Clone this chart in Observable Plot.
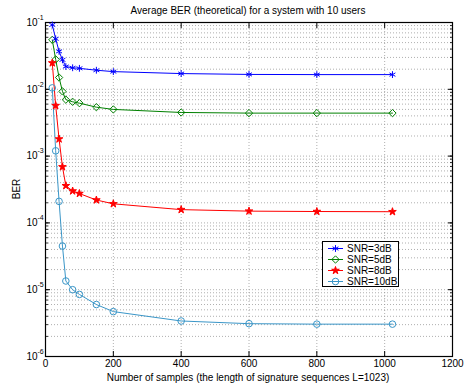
<!DOCTYPE html>
<html>
<head>
<meta charset="utf-8">
<script src="https://cdn.jsdelivr.net/npm/d3@7"></script>
<script src="https://cdn.jsdelivr.net/npm/@observablehq/plot@0.6"></script>
<style>
  html, body { margin: 0; padding: 0; background: #fff; }
  #wrap { position: relative; width: 464px; height: 386px; font-family: "Liberation Sans", Arial, sans-serif; }
  #legend { position: absolute; left: 322px; top: 241px; width: 75px; height: 44px; border: 1px solid #000; background: #fff; font-size: 10px; }
  #legend .row { position: absolute; left: 0; height: 11px; display: flex; align-items: center; }
  #legend svg { display: block; }
</style>
</head>
<body>
<div id="wrap"></div>
<script>
const title = "Average BER (theoretical) for a system with 10 users";
const xLabel = "Number of samples (the length of signature sequences L=1023)";
const yLabel = "BER";
const samples = [20, 30, 40, 50, 60, 80, 100, 150, 200, 400, 600, 800, 1023];
const ber3  = [0.092, 0.057, 0.037, 0.0276, 0.0219, 0.021, 0.0206, 0.0193, 0.0184, 0.0172, 0.0167, 0.0166, 0.0166];
const ber5  = [0.055, 0.028, 0.015, 0.0093, 0.0070, 0.0065, 0.0062, 0.0054, 0.0050, 0.0045, 0.0044, 0.0044, 0.0044];
const ber8  = [0.0248, 0.0057, 0.0018, 0.00069, 0.00036, 0.00030, 0.000275, 0.00022, 0.000193, 0.000158, 0.00015, 0.000148, 0.000147];
const ber10 = [0.0105, 0.0012, 0.00021, 4.5e-5, 1.35e-5, 1.0e-5, 8.5e-6, 6.0e-6, 4.7e-6, 3.4e-6, 3.1e-6, 3.05e-6, 3.05e-6];
const seriesNames = ["SNR=3dB", "SNR=5dB", "SNR=8dB", "SNR=10dB"];
const seriesColors = ["#0000ff", "#008000", "#ff0000", "#3a96c8"];
const seriesSymbols = ["asterisk", "diamond2", "star", "circle"];
const seriesFilled = [false, false, true, false];
const seriesSizes = [3.2, 3.3, 2.4, 3.3];
const xTicks = [0, 200, 400, 600, 800, 1000, 1200];
const yDecades = [1e-6, 1e-5, 1e-4, 1e-3, 1e-2, 1e-1];
const yExponents = ["-6", "-5", "-4", "-3", "-2", "-1"];

const allSeries = [ber3, ber5, ber8, ber10];
const rows = [];
allSeries.forEach((vals, i) => vals.forEach((v, j) => rows.push({x: samples[j], y: v, s: seriesNames[i], i})));

const yMinor = d3.scaleLog().domain([1e-6, 1e-1]).ticks();
const decadeRows = yDecades.map((d, i) => ({y: d, e: yExponents[i]}));
const font = "Liberation Sans, Arial, sans-serif";
const grid = {stroke: "#9a9a9a", strokeDasharray: "1,2", strokeWidth: 0.8};
const noLabel = () => "";

const marks = [
  Plot.ruleY(yMinor, {y: d => d, ...grid}),
  Plot.ruleX(xTicks.slice(1, -1), {x: d => d, ...grid}),
  Plot.axisY(yMinor, {anchor: "left", tickSize: -3, tickFormat: noLabel, label: null, strokeWidth: 0.8}),
  Plot.axisY(yMinor, {anchor: "right", tickSize: -3, tickFormat: noLabel, label: null, strokeWidth: 0.8}),
  Plot.axisY(yDecades, {anchor: "left", tickSize: -5, tickFormat: noLabel, label: null}),
  Plot.axisY(yDecades, {anchor: "right", tickSize: -5, tickFormat: noLabel, label: null}),
  Plot.axisX(xTicks, {anchor: "bottom", tickSize: -5, tickFormat: noLabel, label: null}),
  Plot.axisX(xTicks, {anchor: "top", tickSize: -5, tickFormat: noLabel, label: null}),
  Plot.text(xTicks, {x: d => d, frameAnchor: "bottom", dy: 10, text: d => String(d), fontSize: 10, fill: "#000"}),
  Plot.text(decadeRows, {y: "y", frameAnchor: "left", dx: -8, textAnchor: "end", text: () => "10", fontSize: 10, fill: "#000"}),
  Plot.text(decadeRows, {y: "y", frameAnchor: "left", dx: -8, dy: -5, textAnchor: "start", text: "e", fontSize: 7, fill: "#000"}),
  Plot.frame({stroke: "#000", strokeWidth: 1.2}),
  Plot.line(rows, {x: "x", y: "y", stroke: "s", strokeWidth: 1}),
  Plot.dot(rows, {x: "x", y: "y", stroke: "s", symbol: "s", r: d => seriesSizes[d.i], strokeWidth: 1,
    fill: d => seriesFilled[d.i] ? seriesColors[d.i] : "none"})
];

const chart = Plot.plot({
  width: 464,
  height: 386,
  marginLeft: 45,
  marginRight: 12,
  marginTop: 22,
  marginBottom: 30,
  style: {fontFamily: font, fontSize: "10px", background: "#fff", overflow: "visible"},
  x: {domain: [0, 1200], axis: null},
  y: {type: "log", domain: [1e-6, 1e-1], axis: null},
  r: {type: "identity"},
  color: {domain: seriesNames, range: seriesColors},
  symbol: {domain: seriesNames, range: seriesSymbols},
  marks
});

const wrap = document.getElementById("wrap");
wrap.appendChild(chart);

const svg = d3.select(chart);
svg.append("text").attr("x", 248).attr("y", 14).attr("text-anchor", "middle")
  .attr("font-size", 10).attr("font-family", font).text(title);
svg.append("text").attr("x", 248).attr("y", 381).attr("text-anchor", "middle")
  .attr("font-size", 10).attr("font-family", font).text(xLabel);
svg.append("text").attr("transform", "translate(20,189) rotate(-90)").attr("text-anchor", "middle")
  .attr("font-size", 10).attr("font-family", font).text(yLabel);

// Legend
const legend = document.createElement("div");
legend.id = "legend";
wrap.appendChild(legend);
const symGen = {asterisk: d3.symbolAsterisk, diamond2: d3.symbolDiamond2, star: d3.symbolStar, circle: d3.symbolCircle};
seriesNames.forEach((name, i) => {
  const row = document.createElement("div");
  row.className = "row";
  row.style.top = (0.5 + i * 11) + "px";
  const s = d3.create("svg").attr("width", 24).attr("height", 11);
  s.append("line").attr("x1", 5).attr("x2", 20).attr("y1", 5.5).attr("y2", 5.5)
    .attr("stroke", seriesColors[i]).attr("stroke-width", 1);
  const r = seriesSizes[i];
  s.append("path").attr("transform", "translate(12.5,5.5)")
    .attr("d", d3.symbol(symGen[seriesSymbols[i]], Math.PI * r * r)())
    .attr("stroke", seriesColors[i]).attr("stroke-width", 1)
    .attr("fill", seriesFilled[i] ? seriesColors[i] : "none");
  row.appendChild(s.node());
  const t = document.createElement("span");
  t.textContent = name;
  row.appendChild(t);
  legend.appendChild(row);
});
</script>
</body>
</html>
